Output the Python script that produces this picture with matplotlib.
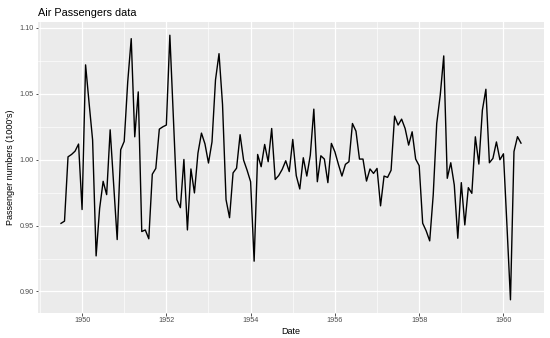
import numpy as np
import matplotlib.pyplot as plt
from matplotlib.ticker import MultipleLocator

plt.rcParams['font.family'] = ['Liberation Sans', 'DejaVu Sans']

# monthly random component, Jul 1949 .. Jun 1960
start_year = 1949
start_month = 7
values = [
    0.9517, 0.9534, 1.0022, 1.0040, 1.0065, 1.0119,
    0.9622, 1.0720, 1.0430, 1.0150, 0.9270, 0.9630, 0.9836, 0.9735, 1.0227, 0.9810, 0.9394, 1.0076,
    1.0139, 1.0590, 1.0919, 1.0174, 1.0515, 0.9455, 0.9467, 0.9400, 0.9890, 0.9934, 1.0232, 1.0250,
    1.0263, 1.0945, 1.0320, 0.9697, 0.9636, 1.0002, 0.9467, 0.9930, 0.9748, 1.0050, 1.0202, 1.0120,
    0.9975, 1.0135, 1.0606, 1.0805, 1.0420, 0.9697, 0.9560, 0.9900, 0.9936, 1.0190, 0.9997, 0.9920,
    0.9833, 0.9230, 1.0040, 0.9947, 1.0116, 0.9985, 1.0237, 0.9850, 0.9880, 0.9927, 0.9992, 0.9910,
    1.0154, 0.9879, 0.9778, 1.0015, 0.9876, 1.0035, 1.0384, 0.9833, 1.0030, 1.0005, 0.9826, 1.0124,
    1.0060, 0.9965, 0.9876, 0.9965, 0.9985, 1.0275, 1.0217, 1.0005, 1.0005, 0.9838, 0.9930, 0.9896,
    0.9934, 0.9650, 0.9876, 0.9866, 0.9920, 1.0331, 1.0263, 1.0308, 1.0237, 1.0111, 1.0212, 1.0005,
    0.9955, 0.9518, 0.9460, 0.9384, 0.9732, 1.0275, 1.0490, 1.0788, 0.9859, 0.9977, 0.9808, 0.9404,
    0.9826, 0.9505, 0.9788, 0.9745, 1.0174, 0.9967, 1.0376, 1.0535, 0.9977, 1.0010, 1.0135, 1.0000,
    1.0045, 0.9500, 0.8937, 1.0062, 1.0175, 1.0126,
]
x_ticks = [1950, 1952, 1954, 1956, 1958, 1960]
y_ticks = [0.90, 0.95, 1.00, 1.05, 1.10]

t = start_year + (start_month - 1) / 12 + np.arange(len(values)) / 12
y = np.array(values)

fig = plt.figure(figsize=(5.5, 3.38), dpi=100)
ax = fig.add_axes([38 / 550, 25 / 338, 506 / 550, 291 / 338])
ax.set_facecolor('#EBEBEB')

# ggplot-like 5% expansion
xr = t.max() - t.min()
yr = y.max() - y.min()
ax.set_xlim(t.min() - 0.05 * xr, t.max() + 0.05 * xr)
ax.set_ylim(y.min() - 0.05 * yr, y.max() + 0.05 * yr)

ax.set_xticks(x_ticks)
ax.set_yticks(y_ticks)
ax.xaxis.set_minor_locator(MultipleLocator(1))
ax.yaxis.set_minor_locator(MultipleLocator(0.025))
ax.set_yticklabels([f'{v:.2f}' for v in y_ticks])

ax.grid(which='major', color='white', linewidth=0.9)
ax.grid(which='minor', color='white', linewidth=0.45)
ax.set_axisbelow(True)
for s in ax.spines.values():
    s.set_visible(False)

ax.tick_params(which='major', length=1.8, width=0.6, color='#333333',
               labelsize=5.2, labelcolor='#4D4D4D', pad=1.2)
ax.tick_params(which='minor', length=0)

ax.plot(t, y, color='black', linewidth=1.0)

ax.set_xlabel('Date', fontsize=6.5, color='black', labelpad=2)
ax.set_ylabel("Passenger numbers (1000's)", fontsize=6.5, color='black', labelpad=3)
fig.text(38 / 550, 1 - 15.5 / 338, 'Air Passengers data', fontsize=7.8, ha='left', va='baseline')

fig.savefig('out.png', dpi=100)
